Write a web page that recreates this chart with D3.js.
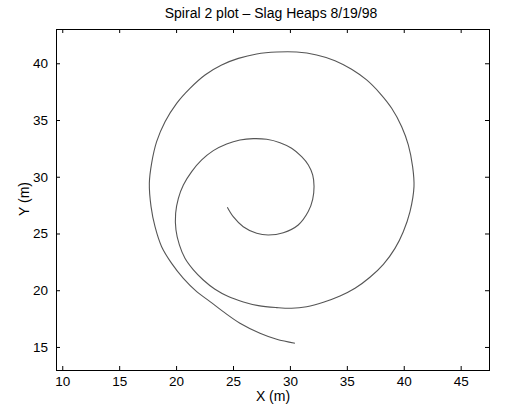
<!DOCTYPE html>
<html>
<head>
<meta charset="utf-8">
<script src="https://cdn.jsdelivr.net/npm/d3@7"></script>
<style>
body { margin: 0; background: #fff; }
text { font-family: "Liberation Sans", Arial, sans-serif; }
</style>
</head>
<body>
<div id="chart"></div>
<script>
// spiral track (metres)
var xVals = [24.50, 25.02, 25.90, 27.08, 28.10, 29.42, 30.73, 31.61, 32.00,
  32.12, 32.00, 31.62, 31.03, 30.15, 29.13, 27.96, 26.79, 25.61, 24.44, 23.27,
  22.25, 21.37, 20.64, 20.20, 19.96, 19.99, 20.29, 20.78, 21.52, 22.39, 23.42,
  24.59, 25.91, 27.23, 28.84, 30.15, 31.47, 32.94, 34.40, 35.72, 37.03, 38.21,
  39.23, 39.96, 40.55, 40.90, 40.78, 40.40, 39.82, 38.94, 37.91, 36.74, 35.42,
  33.96, 32.35, 30.59, 28.84, 27.08, 25.47, 24.00, 22.54, 21.22, 20.05, 19.03,
  18.29, 17.85, 17.65, 17.80, 18.15, 18.73, 19.61, 20.64, 21.81, 22.98, 24.14,
  25.61, 27.37, 28.84, 30.44];
var yVals = [27.31, 26.48, 25.60, 25.02, 24.87, 25.07, 25.75, 26.93, 28.01,
  29.13, 30.16, 31.04, 31.77, 32.51, 33.00, 33.30, 33.36, 33.24, 32.89, 32.30,
  31.48, 30.45, 29.27, 28.10, 26.78, 25.31, 23.99, 22.81, 21.79, 20.90, 20.08,
  19.44, 18.97, 18.64, 18.47, 18.41, 18.55, 18.94, 19.49, 20.17, 21.14, 22.28,
  23.69, 25.16, 26.93, 29.13, 30.89, 32.80, 34.41, 36.03, 37.35, 38.53, 39.47,
  40.23, 40.73, 40.99, 40.99, 40.82, 40.43, 39.85, 38.97, 37.79, 36.47, 34.85,
  33.09, 31.18, 29.42, 27.37, 25.60, 23.84, 22.37, 21.05, 19.88, 19.00, 18.11,
  17.09, 16.21, 15.68, 15.33];
var xTicks = [10, 15, 20, 25, 30, 35, 40, 45];
var yTicks = [15, 20, 25, 30, 35, 40];

var svgWidth = 511, svgHeight = 410;
var margin = {top: 29, right: 22, bottom: 40, left: 56};
var width = svgWidth - margin.left - margin.right;
var height = svgHeight - margin.top - margin.bottom;

var svg = d3.select("#chart").append("svg")
  .attr("width", svgWidth).attr("height", svgHeight);
var g = svg.append("g").attr("transform", `translate(${margin.left},${margin.top})`);

var x = d3.scaleLinear().domain([9.45, 47.49]).range([0, width]);
var y = d3.scaleLinear().domain([12.97, 43.02]).range([height, 0]);

// matlab style: ticks pointing in, on all four sides
var tl = 4;
g.append("g").attr("transform", `translate(0,${height})`)
  .call(d3.axisBottom(x).tickValues(xTicks).tickSize(-tl).tickPadding(6));
g.append("g")
  .call(d3.axisTop(x).tickValues(xTicks).tickSize(-tl).tickFormat(""));
g.append("g")
  .call(d3.axisLeft(y).tickValues(yTicks).tickSize(-tl).tickPadding(8));
g.append("g").attr("transform", `translate(${width},0)`)
  .call(d3.axisRight(y).tickValues(yTicks).tickSize(-tl).tickFormat(""));

g.selectAll(".domain").remove();
g.selectAll(".tick line").attr("stroke", "#000");
g.selectAll(".tick text").attr("fill", "#000").style("font-size", "13.5px")
  .style("font-family", '"Liberation Sans", Arial, sans-serif');

g.append("rect").attr("width", width).attr("height", height)
  .attr("fill", "none").attr("stroke", "#000").attr("stroke-width", 1)
  .attr("shape-rendering", "crispEdges");

var pts = d3.range(xVals.length).map(i => [xVals[i], yVals[i]]);
var line = d3.line().x(d => x(d[0])).y(d => y(d[1])).curve(d3.curveCatmullRom);
g.append("path").datum(pts).attr("d", line)
  .attr("fill", "none").attr("stroke", "#555").attr("stroke-width", 1.1);

svg.append("text").attr("x", 271).attr("y", 18).attr("text-anchor", "middle")
  .style("font-size", "14px").text("Spiral 2 plot \u2013 Slag Heaps 8/19/98");
svg.append("text").attr("x", 273).attr("y", 401).attr("text-anchor", "middle")
  .style("font-size", "14px").text("X (m)");
svg.append("text").attr("transform", "translate(29,199) rotate(-90)")
  .attr("text-anchor", "middle").style("font-size", "14px").text("Y (m)");
</script>
</body>
</html>
